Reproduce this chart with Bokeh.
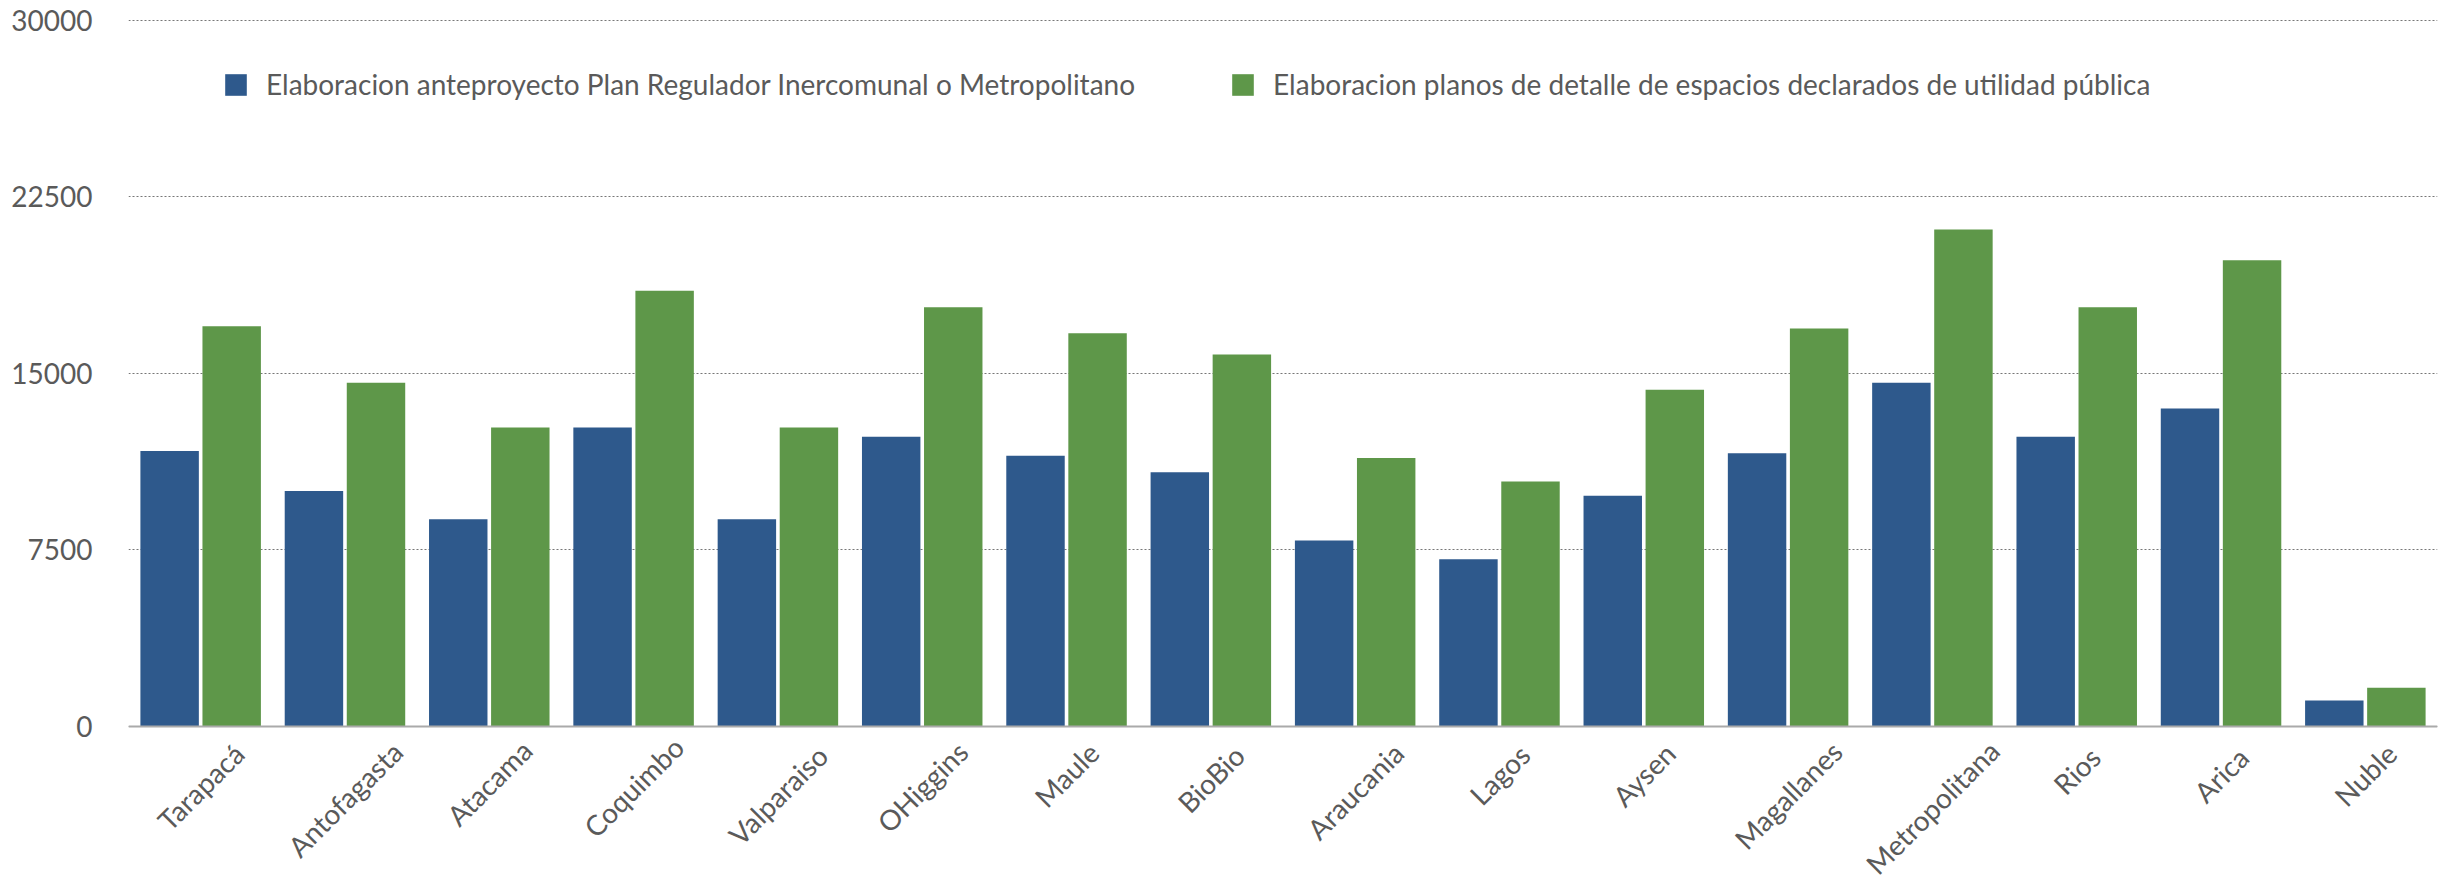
from bokeh.plotting import figure
from bokeh.models import (ColumnDataSource, FactorRange, Range1d, Legend, LegendItem,
                          FixedTicker, Span)
from bokeh.core.properties import value
from bokeh.transform import dodge
from bokeh.embed import file_html
from bokeh.resources import INLINE
import math

regions = ["Tarapacá", "Antofagasta", "Atacama", "Coquimbo", "Valparaiso", "OHiggins",
           "Maule", "BioBio", "Araucania", "Lagos", "Aysen", "Magallanes",
           "Metropolitana", "Rios", "Arica", "Nuble"]
anteproyecto = [11700, 10000, 8800, 12700, 8800, 12300, 11500, 10800,
                7900, 7100, 9800, 11600, 14600, 12300, 13500, 1100]
planos = [17000, 14600, 12700, 18500, 12700, 17800, 16700, 15800,
          11400, 10400, 14300, 16900, 21100, 17800, 19800, 1650]
series_names = ["Elaboracion anteproyecto Plan Regulador Inercomunal o Metropolitano",
                "Elaboracion planos de detalle de espacios declarados de utilidad pública"]
y_ticks = [0, 7500, 15000, 22500, 30000]

BLUE = "#2e598c"
GREEN = "#5e9749"
FONT = "Lato"
TXT = "#5a5a5a"
XLAB_PX = 28

# rotated category labels: centred under the category, tops aligned below the axis
def label_drop(s):
    est_len = len(s) * 0.41 * XLAB_PX
    return 20 + 0.354 * (est_len + 22)

src = ColumnDataSource(dict(region=regions, a=anteproyecto, b=planos,
                            zero=[0] * len(regions),
                            dy=[label_drop(s) for s in regions]))

# the frame extends below zero so that the category labels sit inside it
p = figure(x_range=FactorRange(*regions, range_padding=0.0),
           y_range=Range1d(-6454, 30150),
           width=2448, height=878, output_backend="svg", toolbar_location=None,
           min_border_left=128, min_border_right=11, min_border_top=16, min_border_bottom=0)
p.outline_line_color = None

r1 = p.vbar(x=dodge("region", -0.215, range=p.x_range), top="a", width=0.405,
            source=src, fill_color=BLUE, line_color=None)
r2 = p.vbar(x=dodge("region", 0.215, range=p.x_range), top="b", width=0.405,
            source=src, fill_color=GREEN, line_color=None)

p.add_layout(Span(location=0, dimension="width", line_color="#aaaaaa", line_width=2))

p.text(x="region", y="zero", text="region", source=src, angle=math.pi / 4,
       text_align="center", text_baseline="middle", y_offset="dy",
       text_font=value(FONT), text_font_size=f"{XLAB_PX}px", text_color=TXT)

legend = Legend(items=[LegendItem(label=series_names[0], renderers=[r1]),
                       LegendItem(label=series_names[1], renderers=[r2])],
                orientation="horizontal", location=(94, 777))
legend.label_text_font = FONT
legend.label_text_font_size = "28px"
legend.label_text_color = TXT
legend.glyph_width = 27
legend.glyph_height = 27
legend.label_standoff = 17
legend.spacing = 94
legend.padding = 0
legend.margin = 0
legend.border_line_color = None
legend.background_fill_alpha = 0
p.add_layout(legend)

p.xaxis.visible = False
p.xgrid.grid_line_color = None
p.ygrid.grid_line_color = "#777777"
p.ygrid.grid_line_dash = "2 2"
p.ygrid.grid_line_width = 1.2
p.yaxis.ticker = FixedTicker(ticks=y_ticks)
p.yaxis.axis_line_color = None
p.yaxis.major_tick_line_color = None
p.yaxis.minor_tick_line_color = None
p.yaxis.major_label_text_font = FONT
p.yaxis.major_label_text_font_size = "28px"
p.yaxis.major_label_text_color = TXT
p.yaxis.major_label_standoff = 30

open("out.html", "w").write(file_html(p, INLINE))
